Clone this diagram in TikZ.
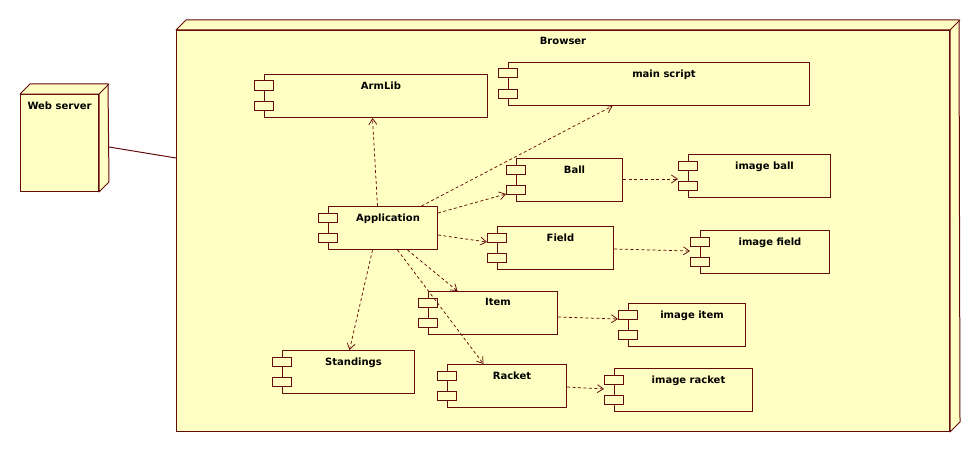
\documentclass[tikz,border=0pt]{standalone}
\usepackage{fontspec}
\setmainfont{DejaVu Sans}
\usetikzlibrary{arrows.meta}
\definecolor{umlline}{RGB}{100,10,10}
\definecolor{umlfill}{RGB}{255,255,196}

\begin{document}
\begin{tikzpicture}[x=1pt, y=-1pt,
    every node/.style={font=\fontsize{10}{12}\selectfont\bfseries, text=black},
    box/.style={draw=umlline, fill=umlfill, line width=1pt, inner sep=0pt, anchor=north west},
    component/.style={box, minimum height=43pt},
    port/.style={draw=umlline, fill=umlfill, line width=1pt},
    face/.style={draw=umlline, fill=umlfill, line width=1pt, line join=round},
    title/.style={anchor=north, yshift=-4pt},
    complabel/.style={anchor=north, yshift=-4pt, xshift=5pt},
    depend/.style={draw=umlline, line width=0.75pt, dash pattern=on 3pt off 2.5pt, -{Straight Barb[length=6pt,width=8pt]}},
    link/.style={draw=umlline, line width=1pt}
]
\useasboundingbox (0,0) rectangle (980,452);

% deployment nodes
\node[box, minimum width=78pt, minimum height=97pt, label={[title]north:Web server}] (webserver) at (20,94) {};
\draw[face] (webserver.north west) -- ++(10,-10) -- ++(78,0) -- ([xshift=10pt,yshift=10pt]webserver.south east) -- (webserver.south east) -- (webserver.north east) -- cycle;
\draw[face] (webserver.north east) -- ++(10,-10);

\node[box, minimum width=773pt, minimum height=401pt, label={[title]north:Browser}] (browser) at (176,30) {};
\draw[face] (browser.north west) -- ++(10,-10) -- ++(773,0) -- ([xshift=10pt,yshift=10pt]browser.south east) -- (browser.south east) -- (browser.north east) -- cycle;
\draw[face] (browser.north east) -- ++(10,-10);

\draw[link] ([xshift=10pt,yshift=-53pt]webserver.north east) -- ([yshift=-128pt]browser.north west);

% components
\node[component, minimum width=223pt, label={[complabel]north:ArmLib}] (armlib) at (264,74) {};
\node[component, minimum width=301pt, label={[complabel]north:main script}] (main) at (508,62) {};
\node[component, minimum width=106pt, label={[complabel]north:Ball}] (ball) at (516,158) {};
\node[component, minimum width=142pt, label={[complabel]north:image ball}] (imgball) at (688,154) {};
\node[component, minimum width=109pt, label={[complabel]north:Application}] (app) at (328,206) {};
\node[component, minimum width=116pt, label={[complabel]north:Field}] (field) at (497,226) {};
\node[component, minimum width=129pt, label={[complabel]north:image field}] (imgfield) at (700,230) {};
\node[component, minimum width=129pt, label={[complabel]north:Item}] (item) at (428,291) {};
\node[component, minimum width=117pt, label={[complabel]north:image item}] (imgitem) at (628,303) {};
\node[component, minimum width=132pt, label={[complabel]north:Standings}] (standings) at (282,350) {};
\node[component, minimum width=119pt, label={[complabel]north:Racket}] (racket) at (447,364) {};
\node[component, minimum width=138pt, label={[complabel]north:image racket}] (imgracket) at (614,368) {};

\foreach \c in {armlib,main,ball,imgball,app,field,imgfield,item,imgitem,standings,racket,imgracket}{
  \draw[port] ([xshift=-10pt,yshift=-7pt]\c.north west) rectangle ++(19,9);
  \draw[port] ([xshift=-10pt,yshift=-27pt]\c.north west) rectangle ++(19,9);
}

% dependencies
\draw[depend] ([xshift=-5.5pt]app.north) -- ([xshift=-3.5pt]armlib.south);
\draw[depend] ([xshift=38.5pt]app.north) -- ([xshift=-46.5pt]main.south);
\draw[depend] ([yshift=-7pt]app.north east) -- ([xshift=-10pt,yshift=-36pt]ball.north west);
\draw[depend] ([yshift=-29pt]app.north east) -- ([xshift=-10pt,yshift=-16pt]field.north west);
\draw[depend] ([xshift=24.5pt]app.south) -- ([xshift=-35.5pt]item.north);
\draw[depend] ([xshift=14.5pt]app.south) -- ([xshift=-23.5pt]racket.north);
\draw[depend] ([xshift=-10.5pt]app.south) -- ([xshift=1pt]standings.north);

\draw[depend] ([yshift=-21pt]ball.north east) -- ([xshift=-10pt,yshift=-25pt]imgball.north west);
\draw[depend] ([yshift=-23pt]field.north east) -- ([xshift=-10pt,yshift=-21pt]imgfield.north west);
\draw[depend] ([yshift=-26pt]item.north east) -- ([xshift=-10pt,yshift=-16pt]imgitem.north west);
\draw[depend] ([yshift=-23pt]racket.north east) -- ([xshift=-10pt,yshift=-21pt]imgracket.north west);
\end{tikzpicture}
\end{document}
